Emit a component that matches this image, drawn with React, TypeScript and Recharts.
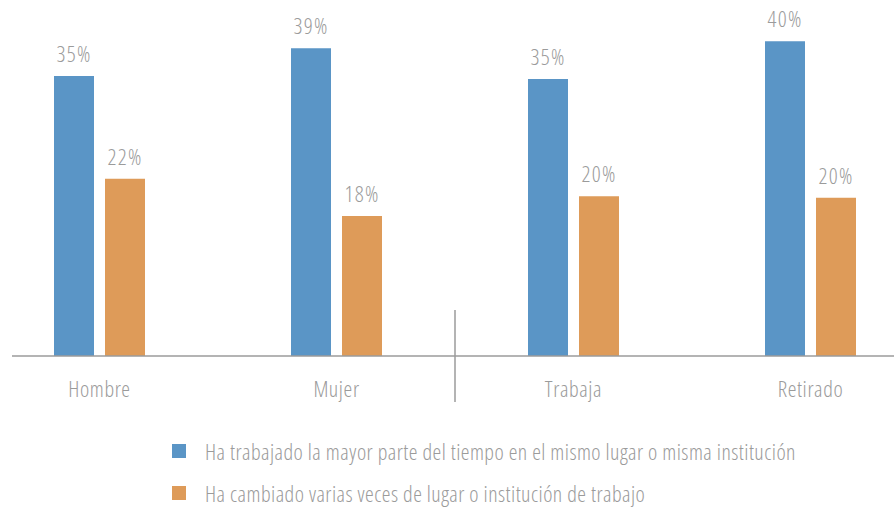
import { BarChart, Bar, XAxis, YAxis, LabelList, Legend, ReferenceLine } from "recharts"

const categories = ["Hombre", "Mujer", "Trabaja", "Retirado"]
const mismoLugar = [35.4, 38.9, 35.0, 39.8]
const cambiado = [22.4, 17.7, 20.2, 20.0]
const seriesNames = [
  "Ha trabajado la mayor parte del tiempo en el mismo lugar o misma institución",
  "Ha cambiado varias veces de lugar o institución de trabajo",
]

const data = categories.map((name, i) => ({
  name,
  mismo: mismoLugar[i],
  cambiado: cambiado[i],
}))

const GRAY = "#9b9b9b"
const BLUE = "#5a95c6"
const ORANGE = "#de9b59"

const pct = (v: any) => `${Math.round(Number(v))}%`

function LegendContent({ payload }: any) {
  // keep the series order instead of the alphabetical one
  const items = [...(payload || [])].sort(
    (a: any, b: any) => seriesNames.indexOf(a.value) - seriesNames.indexOf(b.value)
  )
  return (
    <ul style={{ listStyle: "none", margin: 0, padding: 0 }}>
      {items.map((entry: any) => (
        <li key={entry.value} style={{ display: "flex", alignItems: "center", height: 42 }}>
          <span style={{ width: 14, height: 14, background: entry.color, display: "inline-block", marginRight: 19 }} />
          <span style={{ color: GRAY, fontSize: 22, letterSpacing: 0.45 }}>{entry.value}</span>
        </li>
      ))}
    </ul>
  )
}

export default function App() {
  return (
    <div
      style={{
        position: "absolute",
        left: 12,
        top: 0,
        width: 882,
        height: 508,
        overflow: "hidden",
        background: "#fff",
        fontFamily: "'Open Sans', 'DejaVu Sans Condensed', sans-serif",
        fontStretch: "75%",
        fontWeight: 300,
      }}
    >
      <div style={{ marginLeft: -31 }}>
        <BarChart
          width={948}
          height={508}
          data={data}
          margin={{ top: 0, right: 0, left: 0, bottom: 122 }}
          barSize={40}
          barGap={11}
        >
          <XAxis
            dataKey="name"
            height={30}
            axisLine={{ stroke: GRAY, strokeWidth: 1.5 }}
            tickLine={false}
            tickSize={0}
            tickMargin={25}
            tick={{ fill: GRAY, fontSize: 22, letterSpacing: 0.6 }}
            interval={0}
          />
          <YAxis hide domain={[0, 45]} />
          <ReferenceLine
            segment={[{ x: "Mujer", y: -5.8 }, { x: "Mujer", y: 5.8 }]}
            position="end"
            ifOverflow="visible"
            stroke={GRAY}
            strokeWidth={1.5}
          />
          <Bar dataKey="mismo" name={seriesNames[0]} fill={BLUE} isAnimationActive={false}>
            <LabelList dataKey="mismo" position="top" offset={14} formatter={pct} fill={GRAY} fontSize={22} letterSpacing={1.3} />
          </Bar>
          <Bar dataKey="cambiado" name={seriesNames[1]} fill={ORANGE} isAnimationActive={false}>
            <LabelList dataKey="cambiado" position="top" offset={14} formatter={pct} fill={GRAY} fontSize={22} letterSpacing={1.3} />
          </Bar>
          <Legend
            layout="vertical"
            align="center"
            verticalAlign="middle"
            content={<LegendContent />}
            wrapperStyle={{ left: 191, top: 430, width: "auto" }}
          />
        </BarChart>
      </div>
    </div>
  )
}
